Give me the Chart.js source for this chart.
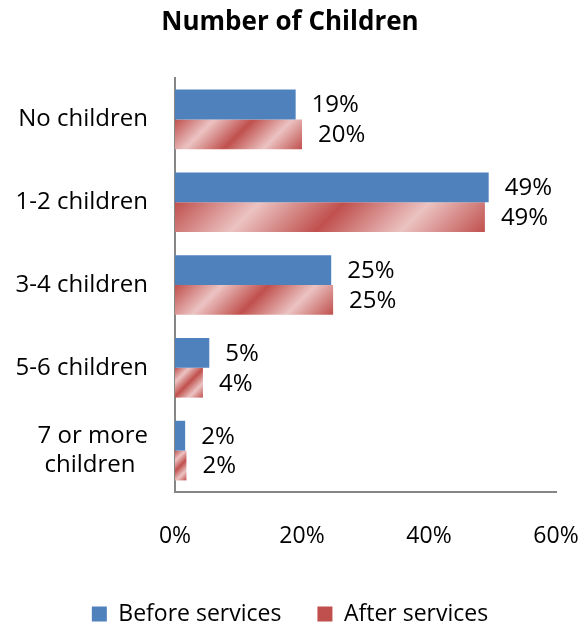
<!DOCTYPE html>
<html>
<head>
<meta charset="utf-8">
<script src="https://cdn.jsdelivr.net/npm/chart.js@4.4.0/dist/chart.umd.min.js"></script>
<style>
  html, body { margin: 0; padding: 0; background: #fff; }
  #wrap { width: 586px; height: 624px; }
</style>
</head>
<body>
<div id="wrap"><canvas id="chart"></canvas></div>
<script>
const categories = ['No children', '1-2 children', '3-4 children', '5-6 children', ['7 or more', 'children  ']];
const beforeServices = [19, 49.4, 24.6, 5.4, 1.6];
const afterServices = [20, 48.8, 24.9, 4.4, 1.8];
const xTicks = [0, 20, 40, 60];

const FONT = '"Open Sans", sans-serif';
const BLUE = '#4F81BD';
const RED_DARK = '#C0504D';
const RED_LIGHT = '#EBC3C2';

// little tile for the legend swatch
function legendPattern(ctx) {
    const c = document.createElement('canvas');
    c.width = 15; c.height = 15;
    const g = c.getContext('2d');
    const gr = g.createLinearGradient(0, 0, 15, 15);
    gr.addColorStop(0, RED_DARK);
    gr.addColorStop(0.5, RED_LIGHT);
    gr.addColorStop(1, RED_DARK);
    g.fillStyle = gr;
    g.fillRect(0, 0, 15, 15);
    return ctx.createPattern(c, 'repeat');
}

// diagonal striped gradient sized to each bar
function redFill(context) {
    const chart = context.chart;
    const area = chart.chartArea;
    if (context.type !== 'data' || !area) return legendPattern(chart.ctx);
    const xs = chart.scales.x, ys = chart.scales.y;
    const catH = (area.bottom - area.top) / categories.length;
    const barH = catH * 0.72 / 2;
    const left = xs.getPixelForValue(0);
    const right = xs.getPixelForValue(context.raw);
    const top = ys.getPixelForValue(context.dataIndex);
    const len = (right - left + barH) / 2;
    const gr = chart.ctx.createLinearGradient(left, top, left + len, top + len);
    gr.addColorStop(0, RED_DARK);
    gr.addColorStop(0.25, RED_LIGHT);
    gr.addColorStop(0.5, RED_DARK);
    gr.addColorStop(0.75, RED_LIGHT);
    gr.addColorStop(1, RED_DARK);
    return gr;
}

const barLabels = {
    id: 'barLabels',
    afterDatasetsDraw(chart) {
        const ctx = chart.ctx;
        ctx.save();
        ctx.font = '24px ' + FONT;
        ctx.fillStyle = '#000';
        ctx.textAlign = 'left';
        ctx.textBaseline = 'middle';
        chart.data.datasets.forEach((ds, i) => {
            chart.getDatasetMeta(i).data.forEach((bar, j) => {
                ctx.fillText(Math.round(ds.data[j]) + '%', bar.x + 16, bar.y + 1);
            });
        });
        ctx.restore();
    }
};

new Chart(document.getElementById('chart'), {
    type: 'bar',
    data: {
        labels: categories,
        datasets: [
            { label: 'Before services', data: beforeServices, backgroundColor: BLUE },
            { label: 'After services', data: afterServices, backgroundColor: redFill }
        ]
    },
    options: {
        indexAxis: 'y',
        responsive: true,
        maintainAspectRatio: false,
        animation: false,
        layout: { padding: { top: 0, right: 18, bottom: -11.5, left: 12 } },
        datasets: { bar: { categoryPercentage: 0.72, barPercentage: 1 } },
        scales: {
            x: {
                min: 0, max: 60,
                afterBuildTicks: s => { s.ticks = xTicks.map(v => ({ value: v })); },
                afterFit: s => { s.height = 74.5; s.paddingRight = 30; },
                grid: { display: false, drawTicks: false },
                border: { color: '#868686', width: 2 },
                ticks: { padding: 31, color: '#000', font: { family: FONT, size: 23 }, callback: v => v + '%' }
            },
            y: {
                afterFit: s => { s.width = 163; },
                grid: { display: false, drawTicks: false },
                border: { color: '#868686', width: 2 },
                ticks: { padding: 27, color: '#000', font: { family: FONT, size: 24 } }
            }
        },
        plugins: {
            title: {
                display: true,
                text: 'Number of Children',
                color: '#000',
                font: { family: FONT, size: 26, weight: 'bold' },
                padding: { top: 7, bottom: 39.8 }
            },
            legend: {
                position: 'bottom',
                labels: { boxWidth: 15, boxHeight: 15, padding: 36, color: '#000', font: { family: FONT, size: 23 } }
            },
            tooltip: { enabled: false }
        }
    },
    plugins: [barLabels]
});
</script>
</body>
</html>
